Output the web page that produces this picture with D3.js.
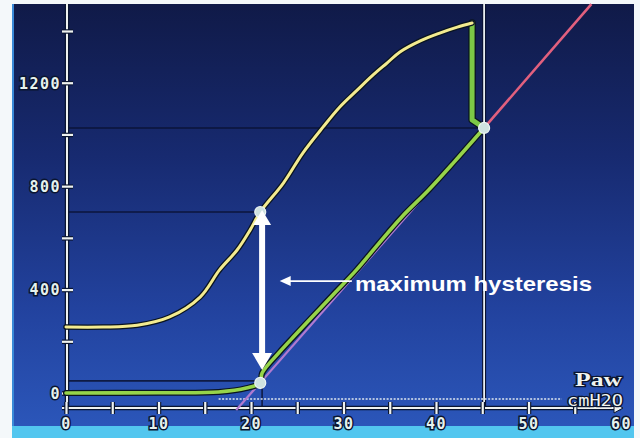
<!DOCTYPE html>
<html><head><meta charset="utf-8">
<script src="https://cdn.jsdelivr.net/npm/d3@7"></script>
<style>body{margin:0;background:#fff;} svg{display:block}</style>
</head><body><svg id="c" width="640" height="438"></svg>
<script>
// ---- data (pressure cmH2O, volume ml) ----
const inflation = [[0,255],[4,255],[7.7,262],[11.2,294],[14.5,371],[16.6,476],[18.5,553],[19.9,630],[21,700],[23.5,812],[25.6,928],[27.8,1029],[29.6,1106],[31.5,1172],[33.2,1230],[34.7,1276],[36.1,1319],[38.3,1362],[40.4,1392],[42.3,1415],[43.9,1431]];
const endInspiration = [[43.9,1431],[43.9,1056],[45.2,1025]];
const deflation = [[45.2,1025],[42,895],[39.2,785],[36.3,681],[33.8,578],[31.4,476],[29,385],[26.6,294],[24.8,225],[23,155],[21.2,77],[21,39],[19.5,19],[16.5,4],[10,1],[0,0]];
const complianceLine = [[18.4,-66],[45.2,1025],[56.8,1504]];
const markers = [[21,700],[21,39],[45.2,1025]];
const xTicks = [0,5,10,15,20,25,30,35,40,45,50,55];
const xLabels = [0,10,20,30,40,50,60];
const yTicks = [0,200,400,600,800,1000,1200,1400];
const yLabels = [0,400,800,1200];
const hysteresis = {p:21.2, vTop:708, vBottom:89, label:"maximum hysteresis", pFrom:30.9, pTo:23.1, v:433};
const baselineDotted = {v:-23, p0:16.5, p1:53.6};

const svg = d3.select("#c");
const W = 640, H = 438;
const x = d3.scaleLinear().domain([0,60]).range([66,621]);
const y = d3.scaleLinear().domain([0,1400]).range([393,31]);
const axisY = y(0) + 15;

// background
const defs = svg.append("defs");
const g = defs.append("linearGradient").attr("id","bg").attr("x1",0).attr("y1",0).attr("x2",0).attr("y2",1);
g.append("stop").attr("offset","0%").attr("stop-color","#101a48");
g.append("stop").attr("offset","35%").attr("stop-color","#172a70");
g.append("stop").attr("offset","70%").attr("stop-color","#22429e");
g.append("stop").attr("offset","100%").attr("stop-color","#2c58bc");
svg.append("rect").attr("width",W).attr("height",H).attr("fill","#f4f8fa");
svg.append("rect").attr("x",12).attr("y",4).attr("width",622).attr("height",434).attr("fill","url(#bg)");
svg.append("rect").attr("x",12).attr("y",4).attr("width",2).attr("height",434).attr("fill","#3a8ad8");
svg.append("rect").attr("x",12).attr("y",426).attr("width",622).attr("height",12).attr("fill","#52c6ef");

// dark reference lines
const dark = "#0a1232";
const refs = [
  [[0,1025],[45.2,1025]],
  [[0,700],[21,700]],
  [[0,47],[21,47]]
];
refs.forEach(r => svg.append("line").attr("x1",x(r[0][0])).attr("y1",y(r[0][1])).attr("x2",x(r[1][0])).attr("y2",y(r[1][1]))
  .attr("stroke",dark).attr("stroke-width",1.6).attr("opacity",0.85));
svg.append("line").attr("x1",x(21.2)).attr("x2",x(21.2)).attr("y1",y(700)).attr("y2",axisY).attr("stroke",dark).attr("stroke-width",1.6).attr("opacity",0.85);

// white cursor vertical & dotted baseline
svg.append("line").attr("x1",x(45.2)).attr("x2",x(45.2)).attr("y1",4).attr("y2",axisY).attr("stroke","#0a1232").attr("stroke-width",4);
svg.append("line").attr("x1",x(45.2)).attr("x2",x(45.2)).attr("y1",4).attr("y2",axisY).attr("stroke","#e8eef0").attr("stroke-width",1.8);
svg.append("line").attr("x1",x(baselineDotted.p0)).attr("x2",x(baselineDotted.p1)).attr("y1",y(baselineDotted.v)).attr("y2",y(baselineDotted.v))
  .attr("stroke","#dfe8f0").attr("stroke-width",1.6).attr("stroke-dasharray","2,1.5");

// axes
const axisLine = (x1,y1,x2,y2) => {
  svg.append("line").attr("x1",x1).attr("y1",y1).attr("x2",x2).attr("y2",y2).attr("stroke","#0a1530").attr("stroke-width",4.5);
  svg.append("line").attr("x1",x1).attr("y1",y1).attr("x2",x2).attr("y2",y2).attr("stroke","#eef2f0").attr("stroke-width",2);
};
axisLine(x(0)+1,4,x(0)+1,axisY);
axisLine(x(0)-4,axisY,x(60),axisY);
svg.append("path").attr("d",`M${x(60)+2},${axisY} l-9,-5 l0,10 z`).attr("fill","#eef2f0").attr("stroke","#0a1530").attr("stroke-width",1);

const yAx = svg.append("g").attr("transform",`translate(${x(0)+1},0)`)
  .call(d3.axisLeft(y).tickValues(yTicks).tickSize(0).tickFormat(d => yLabels.includes(d) ? d : ""));
yAx.select(".domain").remove();
yAx.selectAll(".tick").append("line").attr("x1",-5).attr("x2",6).attr("stroke","#0a1530").attr("stroke-width",4.5);
yAx.selectAll(".tick").append("line").attr("x1",-5).attr("x2",6).attr("stroke","#eef2f0").attr("stroke-width",2.2);
yAx.selectAll("text").attr("x",-6).attr("dy","0.36em");

const xAx = svg.append("g").attr("transform",`translate(0,${axisY})`)
  .call(d3.axisBottom(x).tickValues(xTicks).tickSize(0).tickFormat(""));
xAx.select(".domain").remove();
xAx.selectAll(".tick").append("line").attr("y1",-6).attr("y2",6).attr("stroke","#0a1530").attr("stroke-width",4.5);
xAx.selectAll(".tick").append("line").attr("y1",-6).attr("y2",6).attr("stroke","#eef2f0").attr("stroke-width",2.2);
const xLab = svg.append("g").attr("transform",`translate(0,${axisY})`)
  .call(d3.axisBottom(x).tickValues(xLabels).tickSize(0).tickFormat(d3.format("d")));
xLab.select(".domain").remove();
xLab.selectAll("text").attr("y",10).attr("dy","0.71em");

svg.selectAll(".tick text")
  .attr("font-family","DejaVu Sans Mono").attr("font-weight","bold").attr("font-size",15)
  .attr("letter-spacing",1.5)
  .attr("fill","#e6f2ee").attr("stroke","#0a1530").attr("stroke-width",3)
  .attr("paint-order","stroke");

// compliance line (pink / purple)
const line = d3.line().x(d => x(d[0])).y(d => y(d[1]));
svg.append("path").attr("d",line(complianceLine.slice(0,2))).attr("stroke","#b07ad0").attr("stroke-width",2.2).attr("fill","none");
svg.append("path").attr("d",line(complianceLine.slice(1))).attr("stroke","#e2607e").attr("stroke-width",2.6).attr("fill","none");

// curves with dark outline
const smooth = d3.line().x(d => x(d[0])).y(d => y(d[1])).curve(d3.curveCatmullRom);
function curve(data, color, w, gen){
  svg.append("path").attr("d",gen(data)).attr("fill","none").attr("stroke","#0a1420").attr("stroke-width",w+2.5).attr("stroke-linejoin","round").attr("stroke-linecap","round");
  svg.append("path").attr("d",gen(data)).attr("fill","none").attr("stroke",color).attr("stroke-width",w).attr("stroke-linejoin","round").attr("stroke-linecap","round");
}
curve(deflation,"#96d44a",3.6,smooth);
curve(endInspiration,"#7cc846",5,line);
curve(inflation,"#f3eb90",3,smooth);

// markers
svg.selectAll("circle.m").data(markers).join("circle").attr("class","m")
  .attr("cx",d => x(d[0])).attr("cy",d => y(d[1])).attr("r",5.5)
  .attr("fill","#cfe2e0").attr("stroke","#eef6f4").attr("stroke-width",1.2);

// hysteresis arrow
const ax = x(hysteresis.p), at = y(hysteresis.vTop), ab = y(hysteresis.vBottom);
svg.append("line").attr("x1",ax).attr("x2",ax).attr("y1",at+10).attr("y2",ab-10).attr("stroke","#ffffff").attr("stroke-width",6);
svg.append("path").attr("d",`M${ax},${at} l-9,15 l18,0 z`).attr("fill","#ffffff");
svg.append("path").attr("d",`M${ax},${ab} l-10,-17 l20,0 z`).attr("fill","#ffffff");
// thin arrow
const ty = y(hysteresis.v);
svg.append("line").attr("x1",x(hysteresis.pFrom)).attr("x2",x(hysteresis.pTo)+8).attr("y1",ty).attr("y2",ty).attr("stroke","#ffffff").attr("stroke-width",1.8);
svg.append("path").attr("d",`M${x(hysteresis.pTo)},${ty} l11,-5 l0,10 z`).attr("fill","#ffffff");
svg.append("text").attr("x",355).attr("y",ty+10).text(hysteresis.label)
  .attr("font-family","Liberation Sans, Arial, sans-serif").attr("font-weight","bold").attr("font-size",21)
  .attr("textLength",237).attr("lengthAdjust","spacingAndGlyphs")
  .attr("fill","#ffffff");

// unit labels
svg.append("text").attr("x",575).attr("y",386).text("Paw")
  .attr("font-family","Liberation Serif, serif").attr("font-weight","bold").attr("font-size",18)
  .attr("textLength",47).attr("lengthAdjust","spacingAndGlyphs")
  .attr("fill","#f0f4f0").attr("stroke","#0a1530").attr("stroke-width",2.5).attr("paint-order","stroke");
svg.append("text").attr("x",567).attr("y",406).text("cmH2O")
  .attr("font-family","DejaVu Sans Mono").attr("font-size",15)
  .attr("textLength",56).attr("lengthAdjust","spacingAndGlyphs")
  .attr("fill","#f0f4f0").attr("stroke","#0a1530").attr("stroke-width",2.5).attr("paint-order","stroke");
</script>
</body></html>
